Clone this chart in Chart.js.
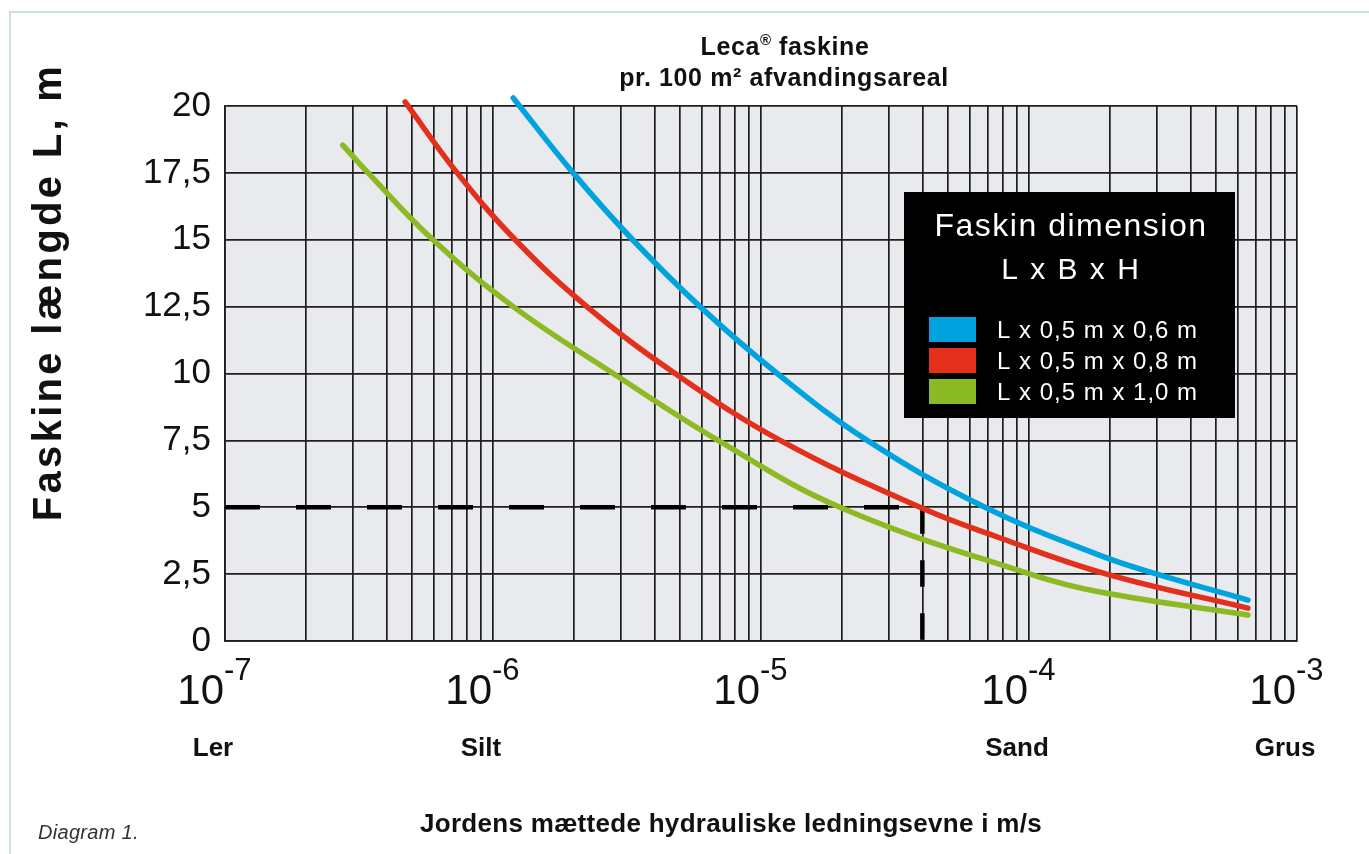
<!DOCTYPE html>
<html>
<head>
<meta charset="utf-8">
<script src="https://cdn.jsdelivr.net/npm/chart.js@4.4.0/dist/chart.umd.min.js"></script>
<style>
  html, body { margin: 0; padding: 0; background: #fff; }
  #frame { position: absolute; left: 9px; top: 11px; width: 1400px; height: 900px;
           border-left: 2px solid #c9e4cc; border-top: 2px solid #c9e4cc; }
  #wrap { position: absolute; left: 0; top: 0; width: 1369px; height: 854px; }
</style>
</head>
<body>
<div id="frame"></div>
<div id="wrap"><canvas id="chart" width="1369" height="854"></canvas></div>
<script>
const blueK  = [1.19e-6, 1.99e-6, 3.32e-6, 5.92e-6, 1.15e-5, 2.49e-5, 6.85e-5, 1.84e-4, 3.0e-4, 6.56e-4];
const blueL  = [20.3, 17.5, 15, 12.5, 10, 7.5, 5, 3.2, 2.5, 1.53];
const redK   = [4.70e-7, 7.35e-7, 1.21e-6, 2.24e-6, 4.78e-6, 1.18e-5, 3.92e-5, 7.8e-5, 1.95e-4, 6.56e-4];
const redL   = [20.15, 17.5, 15, 12.5, 10, 7.5, 5, 3.85, 2.5, 1.23];
const greenK = [2.75e-7, 3.42e-7, 5.97e-7, 1.19e-6, 2.81e-6, 6.92e-6, 1.97e-5, 1.01e-4, 1.84e-4, 6.56e-4];
const greenL = [18.54, 17.5, 15, 12.5, 10, 7.5, 5, 2.5, 1.83, 0.97];

const seriesNames  = ['L x 0,5 m x 0,6 m', 'L x 0,5 m x 0,8 m', 'L x 0,5 m x 1,0 m'];
const seriesColors = ['#00a3dd', '#e3301c', '#8bba24'];

// reading example (dashed): k = 4e-5 m/s gives L = 5 m
const refK = 4e-5;
const refL = 5;

const decades    = [1e-7, 1e-6, 1e-5, 1e-4, 1e-3];
const decadeExps = ['-7', '-6', '-5', '-4', '-3'];
const soilNames  = ['Ler', 'Silt', 'Sand', 'Grus'];
const soilAt     = [1e-7, 1e-6, 1e-4, 1e-3];

// log grid: 1..9 within every decade
const gridK = [];
decades.slice(0, -1).forEach(d => {
  for (let m = 1; m <= 9; m++) gridK.push(m * d);
});
gridK.push(decades[decades.length - 1]);

const toPoints = (ks, ls) => ks.map((k, i) => ({ x: k, y: ls[i] }));

const FONT = '"Liberation Sans", Arial, Helvetica, sans-serif';

const paperPlugin = {
  id: 'paper',
  beforeDraw(chart) {
    const { ctx, chartArea: a } = chart;
    ctx.save();
    ctx.fillStyle = '#e9eaee';
    ctx.fillRect(a.left, a.top, a.right - a.left, a.bottom - a.top);
    ctx.restore();
  },
  afterDraw(chart) {
    const { ctx } = chart;
    const xs = chart.scales.x;
    ctx.save();
    ctx.fillStyle = '#111';
    ctx.textBaseline = 'alphabetic';

    // title
    ctx.letterSpacing = '0.6px';
    ctx.font = 'bold 25px ' + FONT;
    const p1 = 'Leca', p3 = ' faskine';
    const w1 = ctx.measureText(p1).width, w3 = ctx.measureText(p3).width;
    ctx.font = 'bold 15px ' + FONT;
    const w2 = ctx.measureText('®').width;
    let tx = 785 - (w1 + w2 + w3) / 2;
    ctx.textAlign = 'left';
    ctx.font = 'bold 25px ' + FONT;
    ctx.fillText(p1, tx, 55);
    ctx.font = 'bold 15px ' + FONT;
    ctx.fillText('®', tx + w1, 45);
    ctx.font = 'bold 25px ' + FONT;
    ctx.fillText(p3, tx + w1 + w2, 55);
    ctx.textAlign = 'center';
    ctx.fillText('pr. 100 m² afvandingsareal', 784, 86);

    // y axis title
    ctx.save();
    ctx.translate(61, 292);
    ctx.rotate(-Math.PI / 2);
    ctx.font = 'bold 40px ' + FONT;
    ctx.letterSpacing = '3.3px';
    ctx.textAlign = 'center';
    ctx.fillText('Faskine længde L, m', 0, 0);
    ctx.restore();
    ctx.letterSpacing = '0px';

    // decade labels 10^n
    decades.forEach((d, i) => {
      const px = xs.getPixelForValue(d);
      ctx.font = '42px ' + FONT;
      ctx.textAlign = 'right';
      ctx.fillText('10', px - 1, 704);
      ctx.font = '31px ' + FONT;
      ctx.textAlign = 'left';
      ctx.fillText(decadeExps[i], px - 1, 680);
    });

    // soil types
    ctx.font = 'bold 26px ' + FONT;
    ctx.textAlign = 'center';
    soilNames.forEach((s, i) => {
      ctx.fillText(s, xs.getPixelForValue(soilAt[i]) - 12, 756);
    });

    // x axis title
    ctx.font = 'bold 26px ' + FONT;
    ctx.letterSpacing = '0.3px';
    ctx.fillText('Jordens mættede hydrauliske ledningsevne i m/s', 731, 832);

    ctx.font = 'italic 20px ' + FONT;
    ctx.textAlign = 'left';
    ctx.fillStyle = '#333';
    ctx.fillText('Diagram 1.', 38, 839);

    // legend box
    ctx.fillStyle = '#000';
    ctx.fillRect(904, 192, 331, 226);
    ctx.fillStyle = '#fff';
    ctx.textAlign = 'center';
    ctx.font = '32px ' + FONT;
    ctx.letterSpacing = '1.5px';
    ctx.fillText('Faskin dimension', 1071, 236);
    ctx.font = '30px ' + FONT;
    ctx.letterSpacing = '2px';
    ctx.fillText('L x B x H', 1071, 279);
    ctx.letterSpacing = '1px';
    ctx.font = '24px ' + FONT;
    ctx.textAlign = 'left';
    seriesNames.forEach((name, i) => {
      const cy = 329.5 + i * 31;
      ctx.fillStyle = seriesColors[i];
      ctx.fillRect(929, cy - 12.5, 47, 25);
      ctx.fillStyle = '#fff';
      ctx.fillText(name, 997, cy + 8.5);
    });
    ctx.restore();
  }
};

const curve = (i, ks, ls) => ({
  label: seriesNames[i],
  data: toPoints(ks, ls),
  borderColor: seriesColors[i],
  borderWidth: 5.5,
  borderCapStyle: 'round',
  tension: 0.4,
  pointRadius: 0,
  clip: false
});

const dashed = (label, pts, dash) => ({
  label,
  data: pts,
  borderColor: '#000',
  borderWidth: 4.5,
  borderDash: dash,
  tension: 0,
  pointRadius: 0
});

new Chart(document.getElementById('chart'), {
  type: 'line',
  data: {
    datasets: [
      curve(0, blueK, blueL),
      curve(1, redK, redL),
      curve(2, greenK, greenL),
      dashed('ref-h', [{ x: decades[0], y: refL }, { x: refK, y: refL }], [35, 36]),
      dashed('ref-v', [{ x: refK, y: refL }, { x: refK, y: 0 }], [26.5, 26.5])
    ]
  },
  options: {
    responsive: false,
    animation: false,
    layout: { padding: { top: 106, right: 72, left: 0, bottom: 0 } },
    plugins: {
      legend: { display: false },
      tooltip: { enabled: false }
    },
    scales: {
      x: {
        type: 'logarithmic',
        min: decades[0],
        max: decades[decades.length - 1],
        afterBuildTicks: scale => { scale.ticks = gridK.map(v => ({ value: v })); },
        afterFit: scale => { scale.height = 213; },
        ticks: { display: false },
        grid: { color: '#1e1e1e', lineWidth: 1.7, drawTicks: false },
        border: { color: '#1e1e1e', width: 1.7 }
      },
      y: {
        min: 0,
        max: 20,
        afterFit: scale => { scale.width = 225; },
        ticks: {
          stepSize: 2.5,
          padding: 14,
          color: '#111',
          font: { family: FONT, size: 35 },
          callback: v => String(v).replace('.', ',')
        },
        grid: { color: '#1e1e1e', lineWidth: 1.7, drawTicks: false },
        border: { color: '#1e1e1e', width: 1.7 }
      }
    }
  },
  plugins: [paperPlugin]
});
</script>
</body>
</html>
